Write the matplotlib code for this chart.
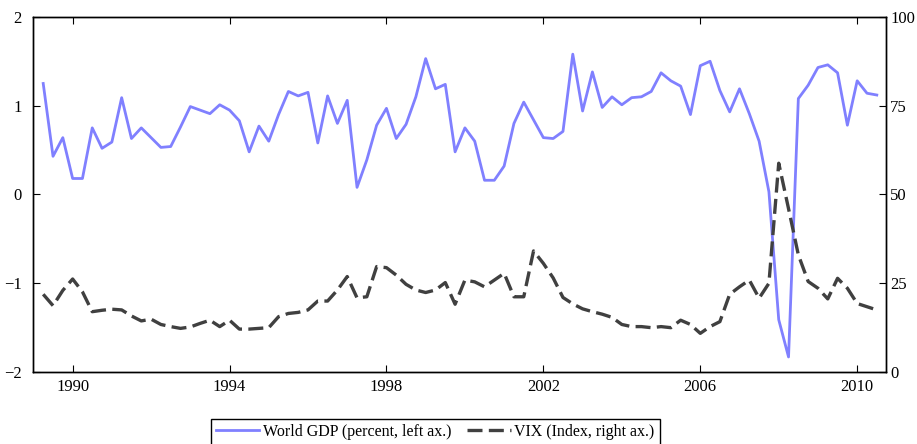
import matplotlib.pyplot as plt
import numpy as np

# quarterly data, 1989Q2 .. 2010Q3
start_year = 1989.25
gdp = [1.25, 0.43, 0.64, 0.18, 0.18, 0.75, 0.52, 0.59, 1.09, 0.63,
       0.75, 0.64, 0.53, 0.54, 0.76, 0.99, 0.95, 0.91, 1.01, 0.95,
       0.83, 0.48, 0.77, 0.60, 0.90, 1.16, 1.11, 1.15, 0.58, 1.11,
       0.80, 1.06, 0.08, 0.39, 0.78, 0.97, 0.63, 0.79, 1.10, 1.53,
       1.19, 1.24, 0.48, 0.75, 0.60, 0.16, 0.16, 0.32, 0.80, 1.04,
       0.84, 0.64, 0.63, 0.71, 1.58, 0.94, 1.38, 0.98, 1.10, 1.01,
       1.09, 1.10, 1.16, 1.37, 1.28, 1.22, 0.90, 1.45, 1.50, 1.17,
       0.93, 1.19, 0.91, 0.60, 0.03, -1.41, -1.83, 1.08, 1.23, 1.43,
       1.46, 1.37, 0.78, 1.28, 1.14, 1.12]
vix = [21.9, 18.7, 23.0, 26.2, 22.6, 17.0, 17.4, 17.7, 17.5, 15.8,
       14.4, 14.9, 13.4, 12.8, 12.3, 12.7, 13.7, 14.6, 12.8, 14.6,
       12.1, 12.1, 12.3, 12.5, 15.6, 16.5, 16.8, 17.5, 20.0, 20.0,
       23.1, 26.9, 20.9, 21.2, 29.7, 29.4, 27.3, 24.7, 23.1, 22.4,
       23.1, 25.2, 19.1, 25.9, 25.4, 24.0, 25.9, 27.8, 21.2, 21.2,
       34.1, 30.6, 26.5, 21.0, 19.2, 17.8, 17.0, 16.3, 15.4, 13.4,
       12.8, 12.8, 12.5, 12.8, 12.5, 14.6, 13.4, 10.9, 12.8, 14.2,
       21.9, 24.0, 25.9, 20.8, 25.0, 58.8, 46.0, 33.0, 25.5, 23.6,
       20.6, 26.4, 23.6, 19.3, 18.4, 17.5]
years = start_year + 0.25 * np.arange(len(gdp))

xticks = [1990, 1994, 1998, 2002, 2006, 2010]

plt.rcParams['font.family'] = ['Liberation Serif', 'DejaVu Serif']
plt.rcParams['font.size'] = 12

fig = plt.figure(figsize=(9.17, 4.44), dpi=100)
ax = fig.add_axes([0.036, 0.162, 0.93, 0.8])
ax2 = ax.twinx()

l1, = ax.plot(years, gdp, color='#8080ff', lw=2.0, label='World GDP (percent, left ax.)')
l2, = ax2.plot(years, vix, color='#404040', lw=2.4, dashes=(4.5, 1.9),
               label='VIX (Index, right ax.)')

ax.set_xlim(1988.99, 2010.73)
ax.set_ylim(-2, 2)
ax2.set_ylim(0, 100)
ax.set_xticks(xticks)
ax.set_yticks([-2, -1, 0, 1, 2])
ax2.set_yticks([0, 25, 50, 75, 100])

ax.tick_params(axis='x', direction='in', top=True, length=5, pad=5)
ax.tick_params(axis='y', direction='in', length=5, pad=8)
ax2.tick_params(axis='y', direction='in', length=5, pad=3)
for a in (ax, ax2):
    for s in a.spines.values():
        s.set_linewidth(1.0)

# legend sits below the axes, partly cut by the figure edge
fig.legend(handles=[l1, l2], loc='upper left', bbox_to_anchor=(211 / 917, 1 - 419 / 444),
           borderaxespad=0, ncol=2, frameon=True, fancybox=False, edgecolor='black',
           framealpha=1, fontsize=11.5, handlelength=2.7, handletextpad=0.25,
           columnspacing=1.0, borderpad=0.3)

fig.savefig('out.png', dpi=100)
